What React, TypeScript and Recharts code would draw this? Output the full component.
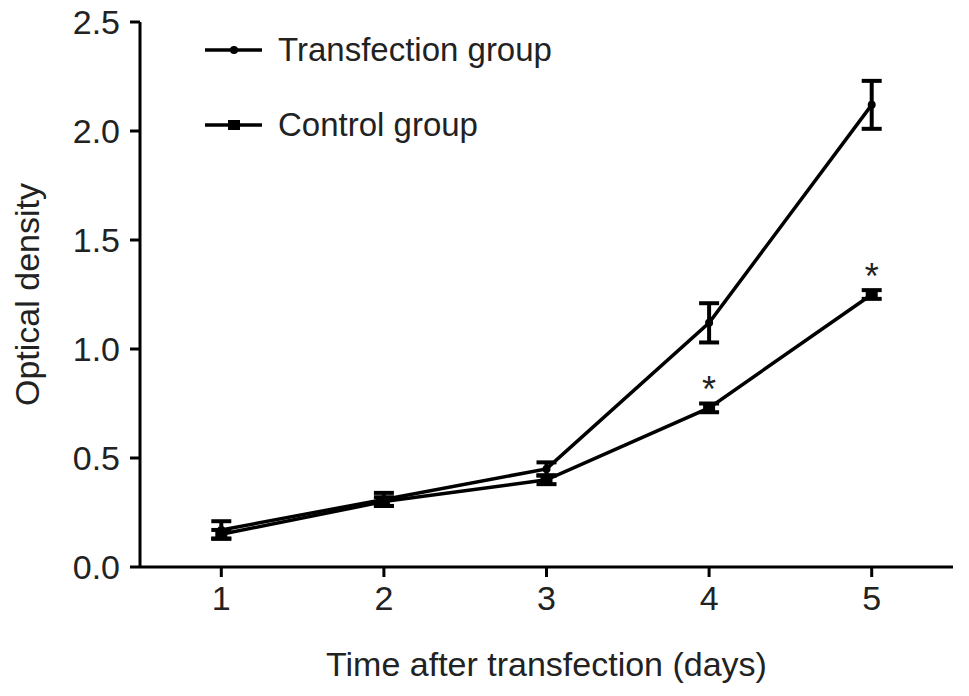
import React from 'react';
import {
    LineChart,
    Line,
    XAxis,
    YAxis,
    ErrorBar,
    LabelList
} from 'recharts';

const days = [1, 2, 3, 4, 5];
const transfection = [0.17, 0.31, 0.45, 1.12, 2.12];
const transfectionErr = [0.04, 0.03, 0.03, 0.09, 0.11];
const control = [0.15, 0.30, 0.40, 0.73, 1.25];
const controlErr = [0.02, 0.02, 0.02, 0.02, 0.02];
const significance = ['', '', '', '*', '*'];
const yTicks = [0, 0.5, 1.0, 1.5, 2.0, 2.5];

const data = days.map((d, i) => ({
    day: d,
    transfection: transfection[i],
    transfectionErr: transfectionErr[i],
    control: control[i],
    controlErr: controlErr[i],
    sig: significance[i]
}));

const FONT = '"Liberation Sans", Arial, Helvetica, sans-serif';

const CircleDot = (props: any) => {
    const { cx, cy } = props;
    if (cx == null || cy == null) return null;
    return <circle cx={cx} cy={cy} r={4} fill="#000" />;
};

const SquareDot = (props: any) => {
    const { cx, cy } = props;
    if (cx == null || cy == null) return null;
    return <rect x={cx - 6} y={cy - 5} width={12} height={10} fill="#000" />;
};

// legend drawn by hand so the markers match the plot
const legendRows = [
    { name: 'Transfection group', square: false },
    { name: 'Control group', square: true }
];

const LegendBox = () => (
    <div style={{ position: 'absolute', left: 202, top: 12, pointerEvents: 'none' }}>
        {legendRows.map((r) => (
            <div key={r.name} style={{ display: 'flex', alignItems: 'center', height: 75 }}>
                <svg width={70} height={20}>
                    <line x1={3} y1={10} x2={60} y2={10} stroke="#000" strokeWidth={3.5} />
                    {r.square
                        ? <rect x={26} y={5} width={12} height={10} fill="#000" />
                        : <circle cx={32} cy={10} r={4} fill="#000" />}
                </svg>
                <span style={{ fontFamily: FONT, fontSize: 33, color: '#222', marginLeft: 6 }}>
                    {r.name}
                </span>
            </div>
        ))}
    </div>
);

const App: React.FC = () => {
    return (
        <div style={{ position: 'absolute', left: 0, top: 0, width: 969, height: 696, background: '#fff' }}>
            <LineChart
                width={969}
                height={696}
                data={data}
                margin={{ top: 22, right: 16, bottom: 0, left: 0 }}
            >
                <XAxis
                    dataKey="day"
                    type="number"
                    domain={[0.5, 5.5]}
                    ticks={days}
                    height={129}
                    stroke="#000"
                    strokeWidth={3}
                    tickSize={10}
                    tickMargin={9}
                    tick={{ fill: '#222', fontSize: 34, fontFamily: FONT }}
                    label={{
                        value: 'Time after transfection (days)',
                        position: 'insideBottom',
                        offset: 20,
                        style: { fill: '#222', fontSize: 34, fontFamily: FONT }
                    }}
                />
                <YAxis
                    type="number"
                    domain={[0, 2.5]}
                    ticks={yTicks}
                    width={140}
                    stroke="#000"
                    strokeWidth={3}
                    tickSize={10}
                    tickMargin={10}
                    tickFormatter={(v: number) => v.toFixed(1)}
                    tick={{ fill: '#222', fontSize: 34, fontFamily: FONT }}
                    label={{
                        value: 'Optical density',
                        angle: -90,
                        position: 'insideLeft',
                        offset: 27,
                        style: { fill: '#222', fontSize: 34, fontFamily: FONT, textAnchor: 'middle' }
                    }}
                />
                <Line
                    dataKey="transfection"
                    name="Transfection group"
                    stroke="#000"
                    strokeWidth={3.5}
                    dot={<CircleDot />}
                    activeDot={false}
                    isAnimationActive={false}
                >
                    <ErrorBar dataKey="transfectionErr" direction="y" width={10} strokeWidth={4} stroke="#000" />
                </Line>
                <Line
                    dataKey="control"
                    name="Control group"
                    stroke="#000"
                    strokeWidth={3.5}
                    dot={<SquareDot />}
                    activeDot={false}
                    isAnimationActive={false}
                >
                    <ErrorBar dataKey="controlErr" direction="y" width={10} strokeWidth={4} stroke="#000" />
                    <LabelList
                        dataKey="sig"
                        position="top"
                        offset={6}
                        style={{ fill: '#222', fontSize: 36, fontFamily: FONT }}
                    />
                </Line>
            </LineChart>
            <LegendBox />
        </div>
    );
};

export default App;
